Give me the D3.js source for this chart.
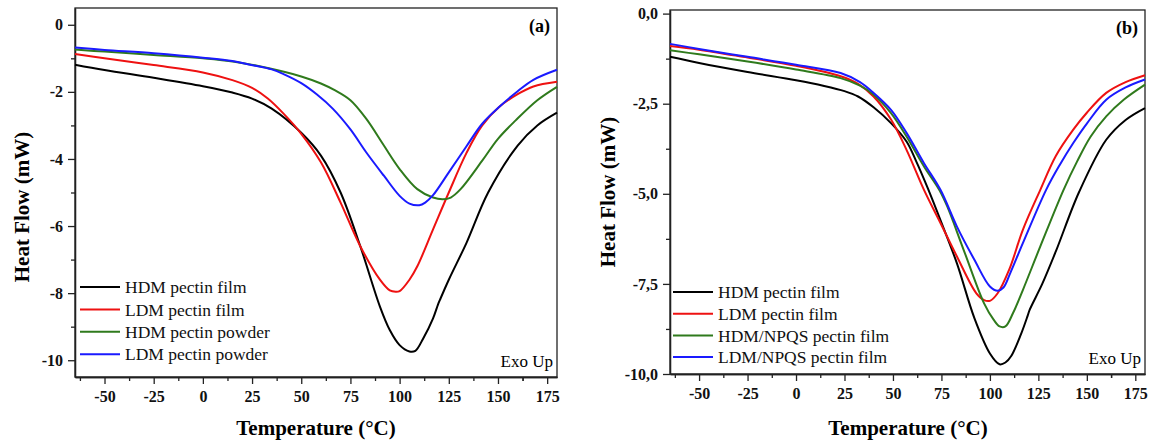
<!DOCTYPE html>
<html>
<head>
<meta charset="utf-8">
<script src="https://cdn.jsdelivr.net/npm/d3@7"></script>
<style>
  body { margin: 0; background: #fff; }
  svg { display: block; font-family: "Liberation Serif", "Times New Roman", serif; }
  .axis path, .axis line { stroke: #222; stroke-width: 1.3; }
  .axis text { font-size: 16px; font-weight: bold; fill: #111; font-family: "Liberation Serif", serif; }
</style>
</head>
<body>
<svg id="chart" width="1153" height="443"></svg>
<script>
// temperature ticks shared by both panels
const xTicks = [-50, -25, 0, 25, 50, 75, 100, 125, 150, 175];
const aYTicks = [0, -2, -4, -6, -8, -10];
const bYTicks = [0, -2.5, -5, -7.5, -10];

// panel (a): temperature (°C) / heat flow (mW)
const aHdmFilmT = [-65, -50, -25, 0, 15, 25, 35, 50, 60, 70, 80, 90, 95, 100, 105, 108, 112, 117, 119.5, 120.5, 125, 134, 145, 160, 170, 180];
const aHdmFilmV = [-1.19, -1.35, -1.58, -1.83, -2.02, -2.2, -2.5, -3.22, -3.9, -5.0, -6.6, -8.4, -9.1, -9.55, -9.74, -9.72, -9.35, -8.75, -8.34, -8.2, -7.6, -6.5, -5.0, -3.6, -3.0, -2.62];
const aLdmFilmT = [-65, -50, -25, 0, 15, 25, 33, 41, 50, 60, 70, 80, 90, 95, 98, 100, 105, 109, 117, 125, 134, 142, 151, 160, 168, 180];
const aLdmFilmV = [-0.87, -1.0, -1.2, -1.42, -1.65, -1.88, -2.2, -2.65, -3.25, -4.1, -5.3, -6.6, -7.6, -7.92, -7.96, -7.94, -7.6, -7.2, -6.1, -5.0, -3.82, -3.0, -2.43, -2.07, -1.84, -1.7];
const aHdmPowderT = [-65, -50, -25, 0, 16, 33, 50, 60, 67, 75, 83, 92, 100, 109, 117, 122, 126, 131, 142, 150, 159, 170, 180];
const aHdmPowderV = [-0.74, -0.8, -0.9, -1.0, -1.1, -1.29, -1.54, -1.75, -1.95, -2.25, -2.8, -3.6, -4.3, -4.9, -5.15, -5.2, -5.15, -4.9, -4.05, -3.4, -2.85, -2.25, -1.85];
const aLdmPowderT = [-65, -50, -25, 0, 15, 24, 35, 41, 50, 58, 66, 75, 83, 92, 100, 105, 110, 113, 117, 125, 134, 142, 151, 160, 168, 180];
const aLdmPowderV = [-0.68, -0.75, -0.85, -0.98, -1.08, -1.19, -1.33, -1.47, -1.74, -2.08, -2.5, -3.12, -3.8, -4.5, -5.1, -5.33, -5.38, -5.3, -5.08, -4.4, -3.62, -2.95, -2.43, -1.98, -1.64, -1.34];

// panel (b)
const bHdmFilmT = [-65, -50, -25, 0, 14, 25, 32, 40, 49, 57, 62, 68, 75, 83, 92, 100, 105, 108, 111, 116, 119.5, 120.5, 127, 134, 146, 160, 170, 180];
const bHdmFilmV = [-1.2, -1.37, -1.62, -1.85, -2.0, -2.15, -2.3, -2.6, -3.04, -3.55, -4.1, -4.85, -5.8, -6.93, -8.45, -9.43, -9.73, -9.68, -9.5, -8.9, -8.38, -8.22, -7.5, -6.6, -4.95, -3.5, -2.95, -2.62];
const bLdmFilmT = [-65, -50, -25, 0, 23, 32, 40, 49, 57, 66, 74.5, 83, 93, 97, 100, 104, 110, 117, 126, 134, 143, 150, 160, 170, 180];
const bLdmFilmV = [-0.9, -1.0, -1.22, -1.45, -1.74, -1.95, -2.3, -2.94, -3.78, -4.89, -5.81, -6.74, -7.76, -7.95, -7.97, -7.76, -7.1, -6.0, -4.89, -3.95, -3.22, -2.75, -2.2, -1.9, -1.71];
const bHdmNpqsT = [-65, -50, -25, 0, 23, 33, 40, 49, 57, 66, 74, 78, 86.5, 97, 102, 105, 108, 112, 117, 126, 138, 145, 152, 160, 169, 180];
const bHdmNpqsV = [-1.02, -1.13, -1.33, -1.55, -1.79, -2.0, -2.25, -2.76, -3.41, -4.24, -4.9, -5.35, -6.56, -8.04, -8.5, -8.68, -8.68, -8.3, -7.67, -6.46, -4.89, -4.1, -3.41, -2.85, -2.39, -1.97];
const bLdmNpqsT = [-65, -50, -25, 0, 23, 33, 40, 49, 57, 66, 74.5, 83, 92, 100, 104, 107, 110.5, 117, 129, 136, 143, 150, 160, 170, 180];
const bLdmNpqsV = [-0.84, -0.98, -1.2, -1.42, -1.65, -1.9, -2.2, -2.67, -3.31, -4.15, -4.89, -5.91, -6.83, -7.57, -7.69, -7.6, -7.2, -6.37, -4.89, -4.2, -3.59, -3.05, -2.39, -2.05, -1.83];

const aNames = ["HDM pectin film", "LDM pectin film", "HDM pectin powder", "LDM pectin powder"];
const bNames = ["HDM pectin film", "LDM pectin film", "HDM/NPQS pectin film", "LDM/NPQS pectin film"];
const colours = ["#000000", "#ee1111", "#2f7a1c", "#1a1aff"];

const zip = (ts, vs) => ts.map((t, i) => ({ t, v: vs[i] }));

const svg = d3.select("#chart");

const serifAxis = (sel) =>
  sel.attr("font-family", "Liberation Serif").attr("font-size", 16).attr("font-weight", "bold");

const drawPanel = (p) => {
  const x = d3.scaleLinear().domain([-65, 180]).range([p.left, p.right]);
  const y = d3.scaleLinear().domain(p.yDomain).range([p.bottom, p.top]);
  const g = svg.append("g");

  // minor ticks first, majors on top
  const xMinor = xTicks.map((d) => d - 12.5).concat([162.5]);
  g.append("g")
    .attr("class", "axis")
    .attr("transform", `translate(0,${p.bottom})`)
    .call(d3.axisBottom(x).tickValues(xMinor).tickSize(4).tickFormat("").tickSizeOuter(0));
  g.append("g")
    .attr("class", "axis")
    .attr("transform", `translate(${p.left},0)`)
    .call(d3.axisLeft(y).tickValues(p.yMinor).tickSize(4).tickFormat("").tickSizeOuter(0));

  g.append("g")
    .attr("class", "axis")
    .attr("transform", `translate(0,${p.bottom})`)
    .call(d3.axisBottom(x).tickValues(xTicks).tickSize(7).tickPadding(7).tickFormat((d) => String(d)).tickSizeOuter(0))
    .call(serifAxis);
  g.append("g")
    .attr("class", "axis")
    .attr("transform", `translate(${p.left},0)`)
    .call(d3.axisLeft(y).tickValues(p.yTicks).tickSize(7).tickPadding(5).tickFormat(p.fmt).tickSizeOuter(0))
    .call(serifAxis);

  // frame
  g.append("rect")
    .attr("x", p.left)
    .attr("y", p.top)
    .attr("width", p.right - p.left)
    .attr("height", p.bottom - p.top)
    .style("fill", "none")
    .style("stroke", "#222")
    .style("stroke-width", 1.3);

  const line = d3
    .line()
    .x((d) => x(d.t))
    .y((d) => y(d.v))
    .curve(d3.curveCatmullRom.alpha(0.5));

  g.append("g")
    .selectAll("path.line")
    .data(p.series)
    .join("path")
    .attr("class", "line")
    .attr("d", (d) => line(d))
    .style("fill", "none")
    .style("stroke", (d, i) => colours[i])
    .style("stroke-width", 2);

  // legend
  const leg = g.append("g");
  p.names.forEach((name, i) => {
    const ly = p.legY + i * p.legStep;
    leg.append("line")
      .attr("x1", p.legX)
      .attr("x2", p.legX + 40)
      .attr("y1", ly)
      .attr("y2", ly)
      .style("stroke", colours[i])
      .style("stroke-width", 2);
    leg.append("text")
      .attr("x", p.legX + 45)
      .attr("y", ly)
      .attr("dy", "0.35em")
      .style("font-size", "17.5px")
      .style("fill", "#111")
      .text(name);
  });

  g.append("text")
    .attr("x", p.right - 7)
    .attr("y", p.top + 24)
    .attr("text-anchor", "end")
    .style("font-size", "18px")
    .style("font-weight", "bold")
    .text(p.tag);

  g.append("text")
    .attr("x", p.right - 4)
    .attr("y", p.bottom - 10)
    .attr("text-anchor", "end")
    .style("font-size", "17px")
    .text("Exo Up");

  // axis titles
  g.append("text")
    .attr("x", p.xTitleX)
    .attr("y", 435)
    .attr("text-anchor", "middle")
    .style("font-size", "21px")
    .style("font-weight", "bold")
    .text("Temperature (°C)");

  g.append("text")
    .attr("transform", `translate(${p.yTitleX},${p.yTitleY}) rotate(-90)`)
    .attr("text-anchor", "middle")
    .attr("dy", "0.35em")
    .style("font-size", "21px")
    .style("font-weight", "bold")
    .text("Heat Flow (mW)");
};

drawPanel({
  left: 75, right: 557, top: 8, bottom: 377,
  yDomain: [-10.5, 0.5],
  yTicks: aYTicks,
  yMinor: [-1, -3, -5, -7, -9],
  fmt: (d) => String(d),
  series: [zip(aHdmFilmT, aHdmFilmV), zip(aLdmFilmT, aLdmFilmV), zip(aHdmPowderT, aHdmPowderV), zip(aLdmPowderT, aLdmPowderV)],
  names: aNames,
  legX: 80, legY: 287, legStep: 22.4,
  tag: "(a)",
  xTitleX: 316,
  yTitleX: 22, yTitleY: 207,
});

drawPanel({
  left: 670, right: 1145, top: 10, bottom: 374,
  yDomain: [-10, 0.1],
  yTicks: bYTicks,
  yMinor: [-1.25, -3.75, -6.25, -8.75],
  fmt: (d) => d.toFixed(1).replace(".", ","),
  series: [zip(bHdmFilmT, bHdmFilmV), zip(bLdmFilmT, bLdmFilmV), zip(bHdmNpqsT, bHdmNpqsV), zip(bLdmNpqsT, bLdmNpqsV)],
  names: bNames,
  legX: 673, legY: 292, legStep: 21.7,
  tag: "(b)",
  xTitleX: 908,
  yTitleX: 608, yTitleY: 192,
});
</script>
</body>
</html>
